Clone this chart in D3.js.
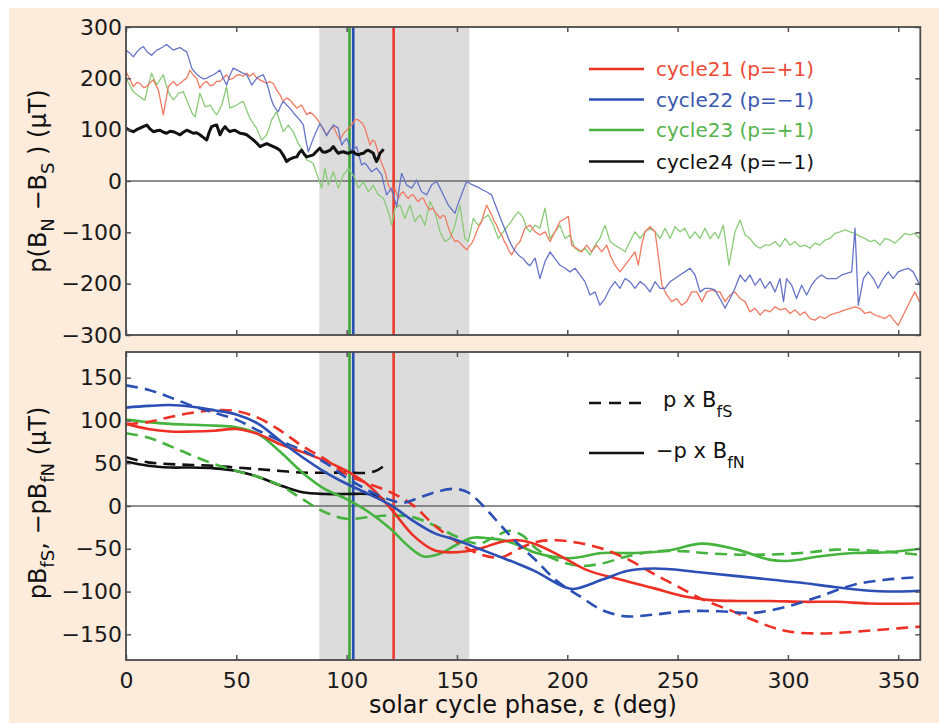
<!DOCTYPE html>
<html><head><meta charset="utf-8">
<script src="https://cdn.jsdelivr.net/npm/d3@7"></script>
<style>body{margin:0;background:#fff} text{font-family:"DejaVu Sans",Arial,sans-serif}</style>
</head><body><svg id="c" width="939" height="723"></svg>
<script>
// ---------- data ----------
const phaseTicks = [0,50,100,150,200,250,300,350];
const topTicks = [-300,-200,-100,0,100,200,300];
const botTicks = [-150,-100,-50,0,50,100,150];
const shadeRange = [87.6, 155.6];
const reversalPhase = [101.3, 103, 121.3]; // cycle23, cycle22, cycle21
const cycleNames = ["cycle21 (p=+1)","cycle22 (p=\u22121)","cycle23 (p=+1)","cycle24 (p=\u22121)"];

// top panel: p(BN - BS), [phase, value]
const c21Diff = [[0,213],[1.5,200],[3.3,184],[5,192],[6.3,190],[8,182],[9.4,184],[11,192],[12.4,197],[14.7,177],[16.9,129],[19.2,184],[21.5,194],[23,186],[24.5,190],[26,196],[27.5,200],[29,216],[30.5,206],[32,200],[33.5,181],[35,190],[36.6,194],[38,186],[39.6,187],[41,194],[42.6,194],[44,200],[45.6,207],[47,198],[48.6,200],[50,206],[51.7,207],[53,204],[54.7,210],[56,204],[57.7,210],[59,202],[60.7,197],[62,194],[63.8,190],[65,194],[66.8,190],[68.3,177],[69.8,168],[71.3,155],[72.8,162],[74.3,158],[75.8,150],[77.4,142],[79.6,148],[80.8,138],[81.9,129],[83.4,134],[84.9,129],[86.4,122],[87.9,112],[89.4,100],[90.9,90],[92.5,100],[94,106],[95.5,92],[97,80],[98.5,92],[100,99],[101,104],[102.3,109],[103.8,119],[105,120],[106.1,116],[107.2,112],[108.3,103],[109.5,86],[110.6,70],[111.7,80],[112.8,77],[114,60],[115.1,44],[116.3,30],[117.4,18],[118.9,-8],[120.4,-21],[121.9,-14],[123.4,-34],[124.5,-25],[125.7,-21],[127,-30],[128,-34],[129.1,-28],[130.2,-27],[131.4,-35],[132.5,-40],[133.6,-34],[134.8,-34],[136.3,-48],[137.8,-56],[139,-52],[140,-60],[141.2,-66],[142.3,-73],[143.5,-67],[144.6,-69],[145.7,-85],[146.8,-99],[148,-110],[149.1,-118],[150.2,-116],[151.4,-121],[153,-128],[154.4,-134],[155.5,-128],[156.7,-121],[157.8,-112],[158.9,-99],[160,-88],[161.2,-79],[162.3,-62],[163.4,-47],[164.5,-56],[165.7,-66],[166.8,-78],[168,-86],[169.1,-98],[170.3,-105],[171.4,-117],[172.5,-125],[173.6,-136],[174.8,-144],[176,-134],[177,-125],[178.6,-118],[180.8,-92],[183.1,-86],[185.4,-99],[187.6,-105],[189.9,-99],[192.2,-118],[194.4,-99],[196.7,-79],[199,-73],[200.5,-69],[202,-125],[204.2,-131],[206.5,-138],[208.8,-125],[211,-138],[213.3,-125],[215.6,-138],[217.9,-125],[219.4,-144],[221.6,-164],[223.9,-177],[226.2,-164],[228.4,-151],[230.7,-138],[232.2,-164],[233.7,-125],[235.2,-99],[237.5,-89],[239.8,-99],[241.4,-151],[242.9,-203],[245.1,-222],[247.3,-235],[249.6,-229],[251.8,-242],[254.1,-235],[256.4,-216],[258.7,-216],[261,-235],[263.2,-216],[265.5,-212],[267.7,-216],[269.2,-216],[271.5,-235],[273.8,-222],[276,-216],[278.3,-229],[280.6,-235],[282.8,-255],[285.1,-248],[287.4,-261],[289.6,-251],[291.9,-255],[294.2,-245],[296.4,-251],[298.7,-248],[301,-258],[303.2,-251],[305.5,-261],[307.7,-255],[310,-268],[312.2,-271],[314.5,-264],[316.8,-268],[319.1,-261],[321.3,-258],[323.6,-255],[325.9,-251],[328.1,-248],[330.4,-245],[332.6,-248],[334.9,-258],[337.2,-255],[339.4,-261],[341.7,-264],[344,-268],[346.2,-261],[348.5,-274],[350,-281],[351.5,-268],[353.8,-248],[356,-229],[357.5,-216],[359.7,-235]];
const c22Diff = [[0,255],[1.5,250],[3.3,242],[5,252],[6.5,258],[7.9,262],[9.5,252],[11.6,245],[13.9,255],[15.5,258],[17,262],[18.4,266],[20,260],[21.5,255],[23,258],[24.5,260],[26,255],[27.5,252],[28.7,236],[29.8,220],[31.5,210],[33.5,203],[35,199],[36.6,200],[38,204],[39.6,207],[41,211],[42.6,216],[44.1,200],[45.6,187],[47,205],[48.6,220],[50,217],[51.7,213],[53,210],[54.7,207],[56,196],[57,187],[58.5,196],[60,203],[62.2,207],[63.4,195],[64.5,181],[65.6,162],[66.8,148],[68,140],[69,135],[70.2,147],[71.3,155],[72.8,148],[74.3,142],[76,132],[78.1,122],[79.3,116],[80.4,109],[81.5,80],[82.6,57],[83.8,70],[84.9,83],[86.4,98],[87.9,112],[89.4,102],[90.9,88],[92.5,100],[94,109],[95.2,106],[96.2,103],[97,85],[97.8,70],[99,78],[100,83],[101.2,70],[102.3,57],[103.4,62],[104.5,67],[105.7,48],[106.8,31],[108,35],[109.1,31],[110.2,24],[111.3,18],[112.5,22],[113.6,25],[114.8,18],[115.9,12],[117,-8],[118.1,-27],[119.3,-20],[120.4,-14],[121.5,-32],[122.7,-50],[123.8,-15],[124.9,15],[126,4],[127.2,-8],[128.4,-11],[129.5,-14],[130.6,-6],[131.7,2],[132.9,-10],[134,-21],[135.2,-24],[136.3,-27],[137.4,-17],[138.5,-8],[139.7,-4],[140.8,-1],[142,-11],[143.1,-21],[144.6,-34],[146.1,-47],[147.6,-55],[149.1,-63],[150.2,-48],[151.4,-34],[152.9,-17],[154.4,-1],[155.9,-5],[157.4,-8],[158.9,-11],[160.4,-14],[161.9,-18],[163.4,-21],[164.5,-24],[165.7,-27],[166.8,-40],[168,-53],[169.5,-70],[171,-86],[172.2,-99],[173.3,-112],[174.4,-122],[175.5,-131],[176.7,-138],[177.8,-144],[179,-148],[180.1,-151],[181.6,-160],[183.1,-165],[185.4,-150],[187.6,-190],[189.9,-157],[192.2,-138],[194.4,-151],[196.7,-164],[199,-170],[201.2,-177],[203.5,-170],[205.8,-183],[208,-196],[210.3,-222],[212.6,-216],[214.8,-242],[217.1,-229],[219.4,-209],[221.6,-196],[223.9,-209],[226.2,-190],[228.4,-196],[230.7,-209],[233,-196],[235.2,-203],[237.5,-216],[239.8,-196],[242.1,-209],[244.3,-209],[246.6,-196],[248.8,-190],[251.1,-183],[253.3,-177],[255.6,-170],[257.9,-183],[260.2,-216],[262.4,-209],[264.7,-209],[266.9,-212],[269.2,-229],[271.5,-248],[273.8,-229],[276,-209],[278.3,-183],[280.6,-196],[282.8,-183],[285.1,-203],[287.4,-190],[289.6,-209],[291.9,-196],[294.2,-216],[296.4,-190],[298,-235],[299.4,-190],[301.7,-203],[303.9,-229],[306.2,-203],[308.5,-222],[310.7,-203],[313,-190],[315.3,-183],[317.6,-190],[319.8,-190],[322.1,-190],[324.4,-183],[326.6,-180],[328.9,-177],[330.4,-92],[331.9,-242],[334.2,-190],[336.4,-177],[338.7,-190],[340.9,-209],[343.2,-190],[345.5,-177],[347.7,-190],[350,-177],[352.2,-173],[354.5,-170],[356.8,-177],[359,-196],[360,-205]];
const c23Diff = [[0,200],[1.5,188],[3.3,174],[5,168],[6.3,164],[7.5,160],[8.6,158],[10,185],[11.6,210],[13,196],[13.9,187],[15.5,198],[16.9,207],[18,190],[19.2,174],[20.5,164],[21.5,158],[23,166],[23.7,171],[25,172],[26,174],[27.5,158],[29,142],[30,132],[31.3,125],[32.5,150],[33.5,171],[34.7,158],[35.8,145],[37,146],[38.1,148],[39.5,138],[41.1,129],[42.3,138],[43.4,148],[44.5,166],[45.6,184],[46.3,162],[47.1,142],[48.6,145],[50.2,148],[51.7,152],[53.2,155],[54.7,138],[56.2,122],[57.7,112],[59.2,103],[60.4,90],[61.5,80],[62.7,85],[63.8,90],[65,105],[66,119],[67.2,127],[68.3,135],[69.8,115],[71.3,96],[72.5,103],[73.6,109],[74.7,102],[75.8,96],[77,84],[78.1,73],[79.3,65],[80.4,57],[81.2,48],[81.9,41],[83.4,38],[84.9,34],[86,20],[87.2,5],[88.7,-14],[90.2,25],[91.7,-8],[92.8,5],[94,18],[95.1,2],[96.2,-14],[97.4,-1],[98.5,12],[99.7,18],[100.8,25],[102.3,15],[103.8,5],[104.5,-5],[105.3,-14],[106.4,-8],[107.6,-1],[108.7,-11],[109.8,-21],[111,-15],[112.1,-8],[113.2,-18],[114.4,-27],[115.5,-30],[116.7,-34],[117.8,-47],[118.9,-60],[119.7,-73],[120.4,-86],[121.2,-70],[121.9,-53],[123,-50],[124.2,-47],[125.3,-60],[126.4,-73],[127.5,-60],[128.7,-47],[129.8,-63],[131,-79],[132.1,-72],[133.3,-66],[134.4,-76],[135.5,-86],[136.6,-63],[137.8,-40],[138.9,-50],[140,-60],[141.2,-80],[142.3,-99],[143.5,-109],[144.6,-118],[145.7,-115],[146.8,-112],[148,-99],[149.1,-86],[150.2,-66],[151.4,-47],[152.5,-80],[153.6,-112],[155.1,-118],[156.3,-95],[157.4,-73],[158.5,-80],[159.7,-86],[160.8,-80],[161.9,-73],[163,-70],[164.2,-66],[165.3,-76],[166.5,-86],[167.6,-99],[168.8,-112],[169.9,-105],[171,-99],[172.2,-92],[173.3,-86],[174.4,-80],[175.5,-73],[176.7,-66],[177.8,-60],[179,-66],[180.1,-73],[181.6,-92],[183.1,-99],[185.4,-86],[187.6,-92],[189.9,-53],[192.2,-112],[194.4,-99],[196.7,-86],[199,-112],[201.2,-105],[203.5,-131],[205.8,-138],[208,-131],[210.3,-144],[212.6,-125],[214.8,-112],[217.1,-86],[219.4,-118],[221.6,-125],[223.9,-131],[226.2,-138],[228.4,-118],[230.7,-99],[233,-112],[235.2,-99],[237.5,-92],[239.8,-99],[242.1,-112],[244.3,-92],[246.6,-112],[248.8,-89],[251.1,-99],[253.3,-92],[255.6,-112],[257.9,-99],[260.2,-112],[262.4,-92],[264.7,-112],[266.9,-100],[268.5,-112],[270.7,-86],[273.3,-164],[276,-99],[278.3,-76],[280.6,-105],[282.8,-112],[285.1,-125],[287.4,-131],[289.6,-125],[291.9,-125],[294.2,-118],[296.4,-128],[298.7,-112],[301,-125],[303.2,-118],[305.5,-128],[307.7,-125],[310,-131],[312.2,-121],[314.5,-125],[316.8,-115],[319.1,-112],[321.3,-102],[323.6,-99],[325.9,-95],[328.1,-99],[330.4,-102],[332.6,-108],[334.9,-112],[337.2,-118],[339.4,-115],[341.7,-125],[344,-112],[346.2,-115],[348.5,-121],[350.8,-112],[353,-102],[355.3,-105],[357.5,-102],[359.7,-112]];
const c24Diff = [[0,103],[1.5,99],[3.3,96],[4.8,100],[6.3,103],[7.8,106],[9.4,109],[11,101],[12.4,96],[14,98],[15.4,99],[17,95],[18.4,93],[20,97],[21.5,96],[23,93],[24.5,90],[26,95],[27.5,99],[29,96],[30.5,93],[32,94],[33.5,90],[35,85],[36.6,80],[37.7,95],[38.8,106],[40,108],[41.1,109],[42,98],[42.6,90],[43.8,100],[44.9,106],[46,100],[47.1,96],[48.2,98],[49.4,99],[50.5,96],[51.7,93],[53.2,92],[54.7,90],[56.2,85],[57.7,80],[59.2,74],[60.7,67],[62.2,70],[63.8,73],[65.3,70],[66.8,67],[68.3,64],[69.8,60],[71.3,50],[72.8,38],[74,42],[75.1,44],[76.2,46],[77.4,47],[78.5,55],[79.6,60],[80.8,52],[81.9,47],[83.4,49],[84.9,51],[86.4,58],[87.9,64],[89,57],[90.2,56],[91.5,58],[92.5,60],[94,67],[95.1,60],[96.2,54],[97.4,56],[98.5,57],[99.7,55],[100.8,54],[101.9,56],[103,57],[104.1,53],[105.3,51],[106.4,53],[107.6,54],[108.7,58],[109.8,60],[111,57],[112.1,54],[112.8,45],[113.6,38],[114.4,46],[115.1,54],[116,58],[116.7,62]];

// bottom panel: p x BfS (dashed) and -p x BfN (solid), [phase, value]
const c21FieldS = [[0,96],[10,98],[20,104],[30,109],[40,112],[50,111],[60,103],[70,88],[80,70],[90,55],[100,37],[110,26],[120,16],[130,1],[140,-23],[150,-42],[160,-56],[170,-60],[178,-50],[186,-42],[195,-40],[205,-43],[216,-50],[228,-63],[239,-79],[250,-94],[262,-110],[274,-122],[284,-133],[292,-141],[301,-147],[315,-149],[330,-147],[345,-144],[360,-141]];
const c21FieldN = [[0,96],[10,90],[20,87],[30,87],[40,88],[50,90],[60,84],[70,72],[80,63],[90,53],[100,41],[110,24],[120,-3],[130,-34],[140,-52],[150,-54],[160,-50],[170,-42],[178,-40],[186,-45],[198,-60],[209,-75],[224,-86],[239,-96],[254,-106],[265,-110],[277,-111],[292,-111],[307,-112],[322,-112],[337,-114],[360,-114]];
const c22FieldS = [[0,141],[10,136],[20,127],[30,117],[40,109],[50,101],[60,88],[70,76],[80,65],[90,51],[100,33],[110,18],[120,7],[126,4],[133,10],[140,16],[148,20],[155,16],[163,-3],[171,-26],[178,-45],[186,-64],[195,-87],[206,-106],[216,-122],[227,-129],[239,-127],[254,-123],[269,-123],[284,-125],[299,-118],[314,-106],[330,-92],[345,-86],[360,-83]];
const c22FieldN = [[0,115],[10,117],[20,118],[30,116],[40,112],[50,107],[60,96],[70,76],[80,57],[90,40],[100,26],[110,14],[120,1],[130,-17],[140,-32],[150,-40],[160,-50],[170,-60],[178,-68],[186,-77],[198,-94],[203,-97],[216,-86],[227,-76],[239,-73],[247,-74],[262,-78],[277,-82],[292,-86],[307,-90],[322,-95],[337,-99],[345,-100],[360,-99]];
const c23FieldS = [[0,85],[10,80],[20,70],[30,59],[40,49],[50,41],[60,34],[70,24],[80,8],[90,-7],[100,-15],[110,-13],[120,-11],[130,-13],[140,-23],[150,-36],[160,-44],[167,-36],[174,-29],[180,-35],[186,-50],[195,-63],[206,-70],[216,-67],[227,-59],[240,-53],[254,-53],[262,-55],[283,-57],[306,-55],[322,-51],[337,-52],[360,-57]];
const c23FieldN = [[0,101],[10,98],[20,96],[30,95],[40,94],[50,92],[60,84],[70,63],[80,39],[90,20],[100,8],[110,-7],[120,-27],[128,-47],[135,-59],[142,-56],[150,-45],[157,-37],[165,-38],[171,-40],[178,-46],[186,-55],[201,-61],[216,-55],[231,-55],[246,-52],[261,-44],[277,-51],[292,-63],[301,-64],[314,-59],[330,-55],[345,-54],[360,-50]];
const c24FieldS = [[0,57],[10,51],[20,49],[30,48],[40,47],[50,45],[60,43],[70,41],[80,39],[90,39],[100,39],[110,39],[114,42],[117,47]];
const c24FieldN = [[0,52],[10,47],[20,45],[30,45],[40,44],[50,41],[60,34],[70,24],[80,16],[90,14],[100,14],[110,14],[114,12],[117,7]];

// ---------- drawing ----------
const svg = d3.select("#c");
svg.append("rect").attr("x",9).attr("y",8).attr("width",930).attr("height",715).attr("fill","#fdebdc");

const x = d3.scaleLinear().domain([0,360]).range([126,920.3]);
const yTop = d3.scaleLinear().domain([-300,300]).range([335,27]);
const yBot = d3.scaleLinear().domain([-180,180]).range([660,352]);

const thin = {c21:"#f07a62", c22:"#6674c8", c23:"#8acb78"};
const bold = {c21:"#ee3024", c22:"#2b4fb4", c23:"#45b33e", c24:"#111"};
const vlineCol = ["#3da63a","#2a4fb4","#ee3a2a"];

function panel(y, id) {
  const g = svg.append("g");
  const [y0,y1] = [y.range()[1], y.range()[0]];
  svg.append("clipPath").attr("id",id).append("rect")
    .attr("x",x(0)).attr("y",y0).attr("width",x(360)-x(0)).attr("height",y1-y0);
  g.append("rect").attr("x",x(0)).attr("y",y0).attr("width",x(360)-x(0)).attr("height",y1-y0).attr("fill","#fff");
  g.append("rect").attr("x",x(shadeRange[0])).attr("y",y0)
    .attr("width",x(shadeRange[1])-x(shadeRange[0])).attr("height",y1-y0).attr("fill","#dcdcdc");
  g.append("line").attr("x1",x(0)).attr("x2",x(360)).attr("y1",y(0)).attr("y2",y(0))
    .attr("stroke","#6a6a6a").attr("stroke-width",1.6);
  reversalPhase.forEach((p,i)=>g.append("line").attr("x1",x(p)).attr("x2",x(p)).attr("y1",y0).attr("y2",y1)
    .attr("stroke",vlineCol[i]).attr("stroke-width",2.6));
  const data = g.append("g").attr("clip-path",`url(#${id})`);
  return {g, data, y0, y1};
}
function frame(p, y, labelsX) {
  const ax = p.g.append("g").attr("class","ax");
  ax.append("g").attr("transform",`translate(0,${p.y1})`)
    .call(d3.axisBottom(x).tickValues(phaseTicks).tickSize(-5).tickSizeOuter(0).tickPadding(12)
      .tickFormat(labelsX ? d3.format("d") : ""));
  ax.append("g").attr("transform",`translate(0,${p.y0})`)
    .call(d3.axisTop(x).tickValues(phaseTicks).tickSize(-5).tickSizeOuter(0).tickFormat(""));
  ax.append("g").attr("transform",`translate(${x(0)},0)`)
    .call(d3.axisLeft(y).tickValues(y===yTop?topTicks:botTicks).tickSize(-5).tickSizeOuter(0).tickPadding(4)
      .tickFormat(d=> d<0 ? "\u2212"+Math.abs(d) : d));
  ax.append("g").attr("transform",`translate(${x(360)},0)`)
    .call(d3.axisRight(y).tickValues(y===yTop?topTicks:botTicks).tickSize(-5).tickSizeOuter(0).tickFormat(""));
  ax.selectAll(".domain").remove();
  ax.selectAll(".tick line").attr("stroke","#555").attr("stroke-width",1.5);
  ax.selectAll(".tick text").attr("font-size",22).attr("fill","#1a1a1a").attr("font-family","DejaVu Sans, Arial, sans-serif");
  p.g.append("rect").attr("x",x(0)).attr("y",p.y0).attr("width",x(360)-x(0)).attr("height",p.y1-p.y0)
    .attr("fill","none").attr("stroke","#4a4a4a").attr("stroke-width",1.8);
}

// top panel
const pt = panel(yTop,"clipTop");
const lineTop = d3.line().x(d=>x(d[0])).y(d=>yTop(d[1]));
[[c23Diff,thin.c23],[c21Diff,thin.c21],[c22Diff,thin.c22]].forEach(([d,c])=>
  pt.data.append("path").attr("d",lineTop(d)).attr("fill","none").attr("stroke",c).attr("stroke-width",1.3).attr("stroke-linejoin","round"));
pt.data.append("path").attr("d",lineTop(c24Diff)).attr("fill","none").attr("stroke","#111").attr("stroke-width",3).attr("stroke-linejoin","round");
frame(pt, yTop, false);

// legend top
const legCols = [bold.c21, bold.c22, bold.c23, bold.c24];
const legTxt = ["#ee4a36","#3a57b0","#55b44c","#111"];
const legY = [69, 99.5, 130, 161.5];
cycleNames.forEach((n,i)=>{
  svg.append("line").attr("x1",589).attr("x2",644).attr("y1",legY[i]).attr("y2",legY[i])
    .attr("stroke",legCols[i]).attr("stroke-width",2.6);
  svg.append("text").attr("x",656).attr("y",legY[i]+7).attr("font-size",20).attr("fill",legTxt[i]).text(n);
});

// bottom panel
const pb = panel(yBot,"clipBot");
const lineBot = d3.line().x(d=>x(d[0])).y(d=>yBot(d[1])).curve(d3.curveCatmullRom.alpha(0.5));
const botSeries = [
  [c24FieldS,bold.c24,true],[c24FieldN,bold.c24,false],
  [c23FieldS,bold.c23,true],[c23FieldN,bold.c23,false],
  [c21FieldS,bold.c21,true],[c21FieldN,bold.c21,false],
  [c22FieldS,bold.c22,true],[c22FieldN,bold.c22,false]];
botSeries.forEach(([d,c,dash])=>pb.data.append("path").attr("d",lineBot(d)).attr("fill","none")
  .attr("stroke",c).attr("stroke-width",2.6).attr("stroke-dasharray",dash?"12,7":null));
frame(pb, yBot, true);

// legend bottom
svg.append("line").attr("x1",589).attr("x2",642).attr("y1",403).attr("y2",403)
  .attr("stroke","#111").attr("stroke-width",2.6).attr("stroke-dasharray","12,8");
svg.append("line").attr("x1",589).attr("x2",644).attr("y1",453).attr("y2",453)
  .attr("stroke","#111").attr("stroke-width",2.6);
const l1 = svg.append("text").attr("x",663).attr("y",407).attr("font-size",21).attr("fill","#111");
l1.append("tspan").text("p x B");
l1.append("tspan").attr("dy",10).attr("font-size",16).text("fS");
const l2 = svg.append("text").attr("x",656).attr("y",458).attr("font-size",21).attr("fill","#111");
l2.append("tspan").text("\u2212p x B");
l2.append("tspan").attr("dy",10).attr("font-size",16).text("fN");

// axis titles
const t1 = svg.append("text").attr("transform",`translate(46,181) rotate(-90)`).attr("text-anchor","middle")
  .attr("font-size",24).attr("fill","#111");
t1.append("tspan").text("p(B");
t1.append("tspan").attr("dy",8).attr("font-size",18).text("N");
t1.append("tspan").attr("dy",-8).text(" \u2212B");
t1.append("tspan").attr("dy",8).attr("font-size",18).text("S");
t1.append("tspan").attr("dy",-8).text(" ) (\u03bcT)");

const t2 = svg.append("text").attr("transform",`translate(46,503) rotate(-90)`).attr("text-anchor","middle")
  .attr("font-size",24).attr("fill","#111");
t2.append("tspan").text("pB");
t2.append("tspan").attr("dy",8).attr("font-size",18).text("fS");
t2.append("tspan").attr("dy",-8).text(", \u2212pB");
t2.append("tspan").attr("dy",8).attr("font-size",18).text("fN");
t2.append("tspan").attr("dy",-8).text(" (\u03bcT)");

svg.append("text").attr("x",523).attr("y",713).attr("text-anchor","middle").attr("font-size",24)
  .attr("fill","#111").text("solar cycle phase, \u03b5 (deg)");
</script></body></html>
